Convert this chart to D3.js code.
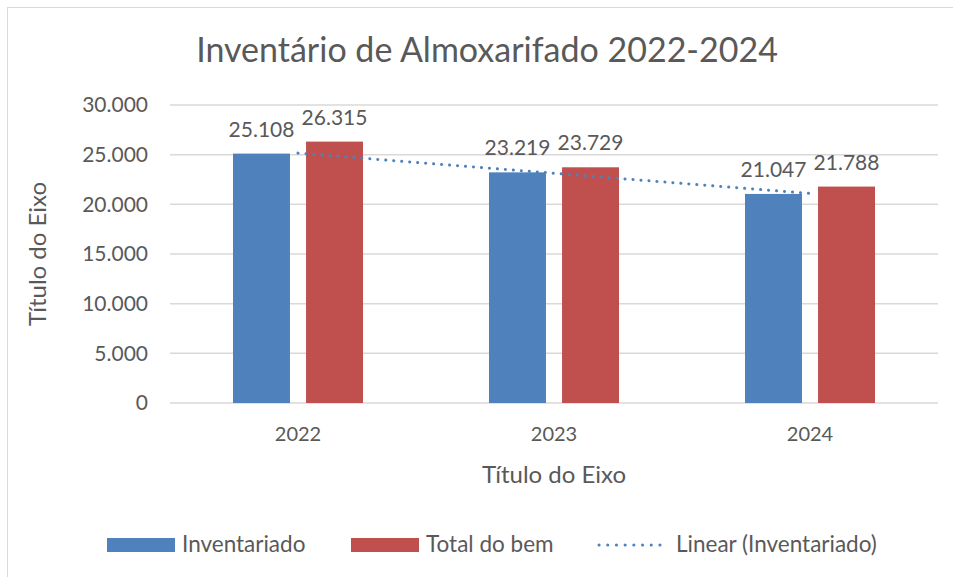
<!DOCTYPE html>
<html>
<head>
<meta charset="utf-8">
<script src="https://cdn.jsdelivr.net/npm/d3@7"></script>
<style>
  body { margin: 0; background: #fff; }
  text { font-family: Lato, "Open Sans", sans-serif; fill: #595959; }
</style>
</head>
<body>
<svg width="953" height="577"></svg>
<script>
// chart data
var anos = ["2022", "2023", "2024"];
var inventariado = [25108, 23219, 21047];
var totalDoBem = [26315, 23729, 21788];
var series = ["Inventariado", "Total do bem"];
var yTicks = [0, 5000, 10000, 15000, 20000, 25000, 30000];

var svg = d3.select("svg");

var br = d3.formatLocale({ decimal: ",", thousands: ".", grouping: [3], currency: ["R$", ""] });
var fmt = br.format(",d");

var colors = { "Inventariado": "#4F81BD", "Total do bem": "#C0504D" };

// chart border (only top/left fall inside the picture)
svg.append("rect")
	.attr("x", 7.5).attr("y", 7.5)
	.attr("width", 960).attr("height", 580)
	.attr("fill", "none")
	.attr("stroke", "#D9D9D9");

var plotLeft = 170, plotRight = 938, plotTop = 105, plotBottom = 403;

var x = d3.scaleBand().domain(anos).range([plotLeft, plotRight]).paddingInner(0).paddingOuter(0);
var x1 = d3.scaleBand().domain(series).range([0, 130]).paddingInner(0.22);
var y = d3.scaleLinear().domain([0, 30000]).range([plotBottom, plotTop]);

// title
svg.append("text")
	.attr("x", 487)
	.attr("y", 62)
	.attr("text-anchor", "middle")
	.style("font-size", "34px")
	.text("Inventário de Almoxarifado 2022-2024");

// gridlines
svg.append("g")
	.selectAll("line")
	.data(yTicks)
	.enter()
	.append("line")
	.attr("x1", plotLeft).attr("x2", plotRight)
	.attr("y1", (d) => y(d)).attr("y2", (d) => y(d))
	.attr("stroke", "#D9D9D9")
	.attr("stroke-width", 1.5);

// y axis labels
var yAxis = d3.axisLeft(y).tickValues(yTicks).tickFormat(fmt).tickSize(0).tickPadding(22);
var yg = svg.append("g").attr("transform", "translate(" + plotLeft + ",0)").call(yAxis);
yg.select(".domain").remove();
yg.selectAll("text").style("font-size", "21px").style("fill", "#595959").style("font-family", "Lato");

// x axis labels
var xAxis = d3.axisBottom(x).tickSize(0).tickPadding(24);
var xg = svg.append("g").attr("transform", "translate(0," + plotBottom + ")").call(xAxis);
xg.select(".domain").remove();
xg.selectAll("text").style("font-size", "20px").style("fill", "#595959").style("font-family", "Lato");

// axis titles
svg.append("text")
	.attr("x", (plotLeft + plotRight) / 2)
	.attr("y", 483)
	.attr("text-anchor", "middle")
	.style("font-size", "24px")
	.text("Título do Eixo");

svg.append("text")
	.attr("transform", "translate(46," + (plotTop + plotBottom) / 2 + ") rotate(-90)")
	.attr("text-anchor", "middle")
	.style("font-size", "24px")
	.text("Título do Eixo");

// bars
var rows = anos.map(function (a, i) {
	return { ano: a, values: [
		{ key: "Inventariado", value: inventariado[i] },
		{ key: "Total do bem", value: totalDoBem[i] }
	] };
});

var groups = svg.append("g")
	.selectAll("g")
	.data(rows)
	.enter()
	.append("g")
	.attr("transform", (d) => "translate(" + (x(d.ano) + x.bandwidth() / 2 - 65) + ",0)");

groups.selectAll("rect")
	.data((d) => d.values)
	.enter()
	.append("rect")
	.attr("x", (d) => x1(d.key))
	.attr("width", x1.bandwidth())
	.attr("y", (d) => y(d.value))
	.attr("height", (d) => plotBottom - y(d.value))
	.attr("fill", (d) => colors[d.key]);

// data labels
groups.selectAll("text.lbl")
	.data((d) => d.values)
	.enter()
	.append("text")
	.attr("class", "lbl")
	.attr("x", (d) => x1(d.key) + x1.bandwidth() / 2)
	.attr("y", (d) => y(d.value) - 17)
	.attr("text-anchor", "middle")
	.style("font-size", "21px")
	.text((d) => fmt(d.value));

// linear trendline of Inventariado (least squares)
var n = inventariado.length;
var mx = (n - 1) / 2;
var my = d3.mean(inventariado);
var slope = d3.sum(inventariado, (v, i) => (i - mx) * (v - my)) / d3.sum(inventariado, (v, i) => (i - mx) * (i - mx));
var trend = anos.map((a, i) => ({ ano: a, value: my + slope * (i - mx) }));

var line = d3.line()
	.x((d) => x(d.ano) + x.bandwidth() / 2)
	.y((d) => y(d.value));

svg.append("path")
	.datum(trend)
	.attr("d", line)
	.attr("fill", "none")
	.attr("stroke", "#4F81BD")
	.attr("stroke-width", 3)
	.attr("stroke-linecap", "round")
	.attr("stroke-dasharray", "0.1,7.9");

// legend
var legend = svg.append("g");
var legendItems = [
	{ label: "Inventariado", type: "rect", color: colors["Inventariado"], x: 107, tx: 182 },
	{ label: "Total do bem", type: "rect", color: colors["Total do bem"], x: 351, tx: 426 },
	{ label: "Linear (Inventariado)", type: "line", color: "#4F81BD", x: 598, tx: 676 }
];

legendItems.forEach(function (it) {
	if (it.type === "rect") {
		legend.append("rect")
			.attr("x", it.x).attr("y", 538)
			.attr("width", 68).attr("height", 14)
			.attr("fill", it.color);
	} else {
		legend.append("line")
			.attr("x1", it.x + 1).attr("x2", it.x + 70)
			.attr("y1", 545).attr("y2", 545)
			.attr("stroke", it.color)
			.attr("stroke-width", 3)
			.attr("stroke-linecap", "round")
			.attr("stroke-dasharray", "0.1,8.6");
	}
	legend.append("text")
		.attr("x", it.tx)
		.attr("y", 552)
		.style("font-size", "22.5px")
		.text(it.label);
});
</script>
</body>
</html>
